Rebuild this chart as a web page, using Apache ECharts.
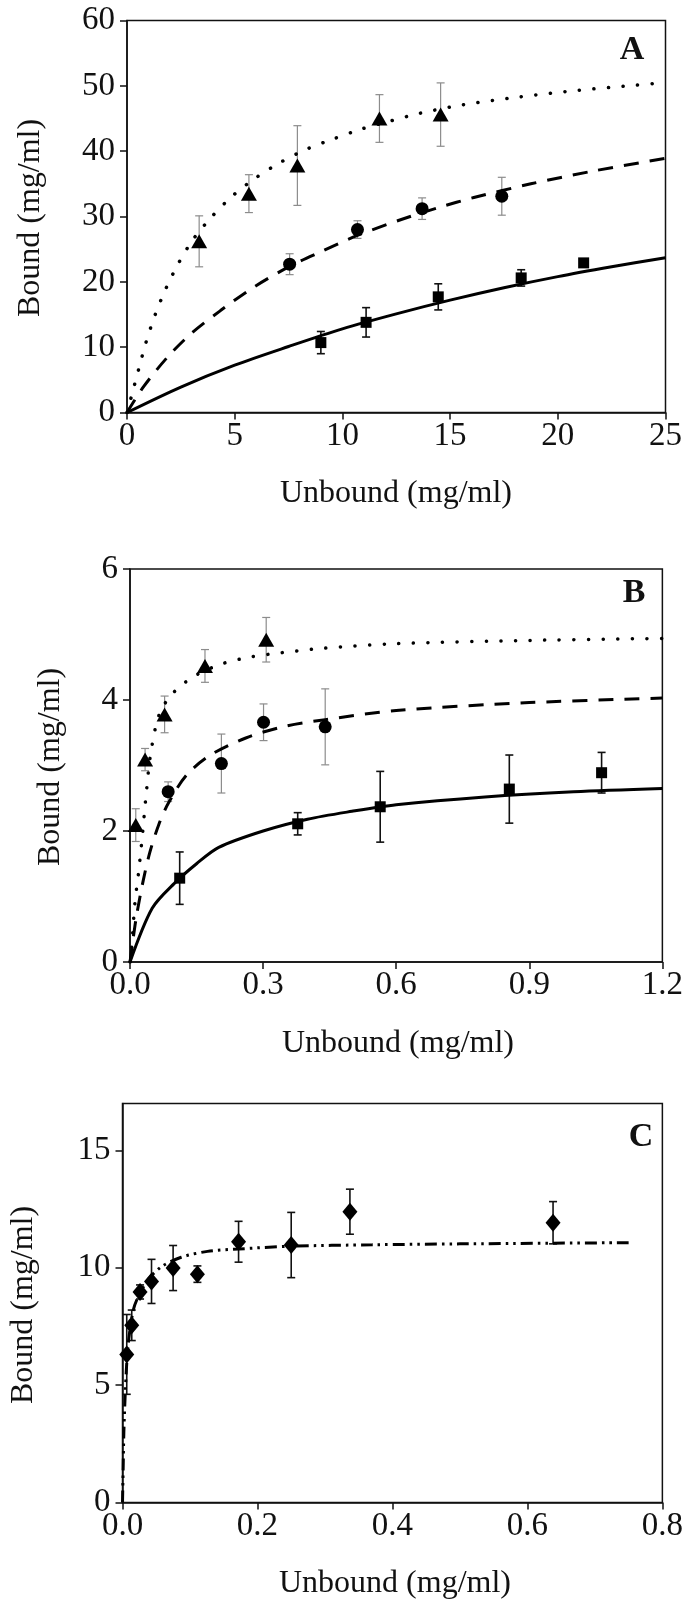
<!DOCTYPE html>
<html>
<head>
<meta charset="utf-8">
<script src="https://cdn.jsdelivr.net/npm/echarts@6/dist/echarts.min.js"></script>
<style>
  html, body { margin: 0; padding: 0; background: #fff; }
  #chart { width: 686px; height: 1604px; }
</style>
</head>
<body>
<div id="chart"></div>
<script>
// ---------- Panel A ----------
const aTriX = [3.35, 5.66, 7.91, 11.72, 14.56];
const aTriY = [26.2, 33.5, 37.8, 45.0, 45.6];
const aTriErr = [3.9, 2.9, 6.1, 3.65, 4.85];
const aCirX = [7.55, 10.7, 13.7, 17.4];
const aCirY = [22.7, 28.0, 31.2, 33.1];
const aCirErr = [1.6, 1.35, 1.65, 2.9];
const aSqX = [9.0, 11.1, 14.45, 18.3, 21.2];
const aSqY = [10.7, 13.8, 17.7, 20.6, 22.9];
const aSqErr = [1.7, 2.25, 2.0, 1.25, 0.3];
const aFitDotted = [[0,0],[0.2,2.4],[0.54,6.6],[0.88,10.7],[1.3,14.9],[1.81,19.0],[2.4,22.9],[3.07,26.5],[3.92,29.9],[4.88,33.1],[5.97,35.9],[7.13,38.3],[8.34,40.3],[9.6,41.9],[10.9,43.4],[12.2,44.6],[13.6,45.8],[15.6,47.1],[18.2,48.3],[20.9,49.3],[23.6,50.1],[25,50.5]];
const aFitDashed = [[0,0],[0.78,4.0],[1.86,8.4],[2.95,12.0],[4.34,15.6],[5.89,19.2],[7.57,22.4],[9.0,24.6],[10.7,27.1],[12.7,29.5],[14.5,31.4],[16.1,32.9],[18.75,35.0],[21.55,36.9],[25,38.9]];
const aFitSolid = [[0,0],[2.5,3.9],[5,7.25],[7.5,10.1],[10,12.8],[12.5,15.1],[15,17.2],[17.5,19.1],[20,20.8],[22.5,22.3],[25,23.7]];
const aXTicks = [0, 5, 10, 15, 20, 25];
const aYTicks = [0, 10, 20, 30, 40, 50, 60];

// ---------- Panel B ----------
const bTriX = [0.013, 0.034, 0.078, 0.169, 0.307];
const bTriY = [2.09, 3.09, 3.78, 4.52, 4.92];
const bTriErr = [0.25, 0.17, 0.28, 0.25, 0.34];
const bCirX = [0.086, 0.206, 0.301, 0.44];
const bCirY = [2.6, 3.03, 3.66, 3.59];
const bCirErr = [0.15, 0.45, 0.28, 0.58];
const bSqX = [0.112, 0.378, 0.564, 0.855, 1.063];
const bSqY = [1.28, 2.11, 2.37, 2.64, 2.89];
const bSqErr = [0.4, 0.17, 0.54, 0.52, 0.31];
const bFitDotted = [[0,0],[0.004,0.25],[0.011,0.9],[0.019,1.35],[0.026,1.8],[0.037,2.6],[0.047,3.2],[0.067,3.8],[0.099,4.12],[0.149,4.38],[0.211,4.56],[0.275,4.66],[0.339,4.72],[0.436,4.79],[0.6,4.86],[0.9,4.91],[1.2,4.94]];
const bFitDashed = [[0,0],[0.008,0.4],[0.015,0.72],[0.03,1.25],[0.045,1.68],[0.065,2.1],[0.086,2.42],[0.127,2.85],[0.179,3.15],[0.261,3.42],[0.35,3.6],[0.44,3.7],[0.6,3.84],[0.9,3.96],[1.2,4.03]];
const bFitSolid = [[0,0],[0.05,0.82],[0.1,1.2],[0.15,1.5],[0.2,1.75],[0.3,2.0],[0.4,2.18],[0.5,2.3],[0.6,2.4],[0.8,2.52],[1.0,2.6],[1.2,2.65]];
const bXTicks = [0, 0.3, 0.6, 0.9, 1.2];
const bYTicks = [0, 2, 4, 6];

// ---------- Panel C ----------
const cX = [0.0063, 0.0137, 0.026, 0.043, 0.075, 0.111, 0.172, 0.25, 0.337, 0.638];
const cY = [6.31, 7.55, 8.97, 9.42, 9.99, 9.73, 11.11, 10.97, 12.39, 11.92];
const cErr = [1.7, 0.65, 0.3, 0.94, 0.96, 0.35, 0.87, 1.39, 0.96, 0.9];
const cFit = [[0,0],[0.001,1.5],[0.002,3.0],[0.004,4.6],[0.006,5.8],[0.009,6.9],[0.016,8.2],[0.023,8.75],[0.038,9.5],[0.058,10.05],[0.087,10.45],[0.126,10.7],[0.172,10.8],[0.25,10.92],[0.37,10.98],[0.5,11.02],[0.75,11.07]];
const cXTicks = [0, 0.2, 0.4, 0.6, 0.8];
const cYTicks = [0, 5, 10, 15];

const xTitle = 'Unbound (mg/ml)';
const yTitle = 'Bound (mg/ml)';
const panelLetters = ['A', 'B', 'C'];

const FONT = '"Liberation Serif", "Times New Roman", serif';
const INK = '#111';
const GREY = '#8c8c8c';

function baseAxis(idx, min, max, interval, ticks, digits, margin) {
  const fmt = v => digits ? Number(v).toFixed(digits) : String(Math.round(v));
  return {
    type: 'value',
    min, max, interval,
    gridIndex: idx,
    axisLine: { show: true, onZero: false, lineStyle: { color: INK, width: 1.5 } },
    axisTick: { show: true, inside: false, length: 7, customValues: ticks, lineStyle: { color: INK, width: 1.5 } },
    axisLabel: { customValues: ticks, formatter: fmt, fontFamily: FONT, fontSize: 33, color: INK, margin },
    splitLine: { show: false }
  };
}

function pairs(xs, ys) { return xs.map((v, i) => [v, ys[i]]); }

// vertical error bar with small caps
function errSeries(gi, xs, ys, es, color, width) {
  return {
    type: 'custom', xAxisIndex: gi, yAxisIndex: gi, z: 2, silent: true,
    data: xs.map((v, i) => [v, ys[i] - es[i], ys[i] + es[i]]),
    encode: { x: 0, y: [1, 2] },
    renderItem(params, api) {
      const lo = api.coord([api.value(0), api.value(1)]);
      const hi = api.coord([api.value(0), api.value(2)]);
      const c = 4;
      const style = { stroke: color, lineWidth: width };
      return {
        type: 'group', children: [
          { type: 'line', shape: { x1: lo[0], y1: lo[1], x2: hi[0], y2: hi[1] }, style },
          { type: 'line', shape: { x1: lo[0] - c, y1: lo[1], x2: lo[0] + c, y2: lo[1] }, style },
          { type: 'line', shape: { x1: hi[0] - c, y1: hi[1], x2: hi[0] + c, y2: hi[1] }, style }
        ]
      };
    }
  };
}

function pts(gi, xs, ys, symbol, size) {
  return {
    type: 'scatter', xAxisIndex: gi, yAxisIndex: gi, z: 4, silent: true,
    symbol, symbolSize: size, itemStyle: { color: '#000', opacity: 1 },
    data: pairs(xs, ys)
  };
}

function fit(gi, data, type, width, cap) {
  return {
    type: 'line', xAxisIndex: gi, yAxisIndex: gi, z: 3, silent: true,
    data, showSymbol: false, smooth: 0.3,
    lineStyle: { color: '#000', width, type, cap: cap || 'butt', opacity: 1 }
  };
}

const DOTTED = [0.1, 14.5];
const DASHED = [15, 11];
const DASHDOTDOT = [12, 5, 2.5, 5, 2.5, 5];

const grids = [
  { left: 127, top: 20.5, width: 538.5, height: 392 },
  { left: 130, top: 569, width: 535.8, height: 393 },
  { left: 122.5, top: 1103.5, width: 545.5, height: 399 }
].map(g => Object.assign(g, { show: true, borderColor: INK, borderWidth: 1.5, backgroundColor: 'transparent' }));

function label(x, y, text, opts) {
  return Object.assign({
    type: 'text', x, y,
    style: Object.assign({
      text, fill: INK, font: '32px ' + FONT, align: 'center', verticalAlign: 'middle'
    }, opts && opts.style)
  }, opts && opts.el);
}

const option = {
  animation: false,
  backgroundColor: '#fff',
  grid: grids,
  xAxis: [
    baseAxis(0, 0, 25, 5, aXTicks, 0, 7),
    baseAxis(1, 0, 1.2, 0.3, bXTicks, 1, 7),
    baseAxis(2, 0, 0.8, 0.2, cXTicks, 1, 7)
  ],
  yAxis: [
    baseAxis(0, 0, 60, 10, aYTicks, 0, 12),
    baseAxis(1, 0, 6, 2, bYTicks, 0, 12),
    baseAxis(2, 0, 17, 5, cYTicks, 0, 12)
  ],
  series: [
    // A
    fit(0, aFitDotted, DOTTED, 3.5, 'round'),
    fit(0, aFitDashed, DASHED, 3),
    fit(0, aFitSolid, 'solid', 3),
    errSeries(0, aTriX, aTriY, aTriErr, GREY, 1.2),
    errSeries(0, aCirX, aCirY, aCirErr, GREY, 1.2),
    errSeries(0, aSqX, aSqY, aSqErr, INK, 1.6),
    pts(0, aTriX, aTriY, 'triangle', [16, 14]),
    pts(0, aCirX, aCirY, 'circle', 13),
    pts(0, aSqX, aSqY, 'rect', 11),
    // B
    fit(1, bFitDotted, DOTTED, 3.5, 'round'),
    fit(1, bFitDashed, DASHED, 3),
    fit(1, bFitSolid, 'solid', 3),
    errSeries(1, bTriX, bTriY, bTriErr, GREY, 1.2),
    errSeries(1, bCirX, bCirY, bCirErr, GREY, 1.2),
    errSeries(1, bSqX, bSqY, bSqErr, INK, 1.6),
    pts(1, bTriX, bTriY, 'triangle', [16, 14]),
    pts(1, bCirX, bCirY, 'circle', 13),
    pts(1, bSqX, bSqY, 'rect', 11),
    // C
    fit(2, cFit, DASHDOTDOT, 3),
    errSeries(2, cX, cY, cErr, INK, 1.6),
    pts(2, cX, cY, 'diamond', [15, 18])
  ],
  graphic: [
    label(396, 494, xTitle),
    label(398, 1044, xTitle),
    label(395, 1584, xTitle),
    label(31, 218, yTitle, { el: { rotation: Math.PI / 2 } }),
    label(51, 767, yTitle, { el: { rotation: Math.PI / 2 } }),
    label(24, 1305, yTitle, { el: { rotation: Math.PI / 2 } }),
    label(632, 50, panelLetters[0], { style: { font: 'bold 34px ' + FONT } }),
    label(634, 593, panelLetters[1], { style: { font: 'bold 34px ' + FONT } }),
    label(641, 1137, panelLetters[2], { style: { font: 'bold 34px ' + FONT } })
  ]
};

const chart = echarts.init(document.getElementById('chart'), null, { renderer: 'canvas' });
chart.setOption(option);
</script>
</body>
</html>
